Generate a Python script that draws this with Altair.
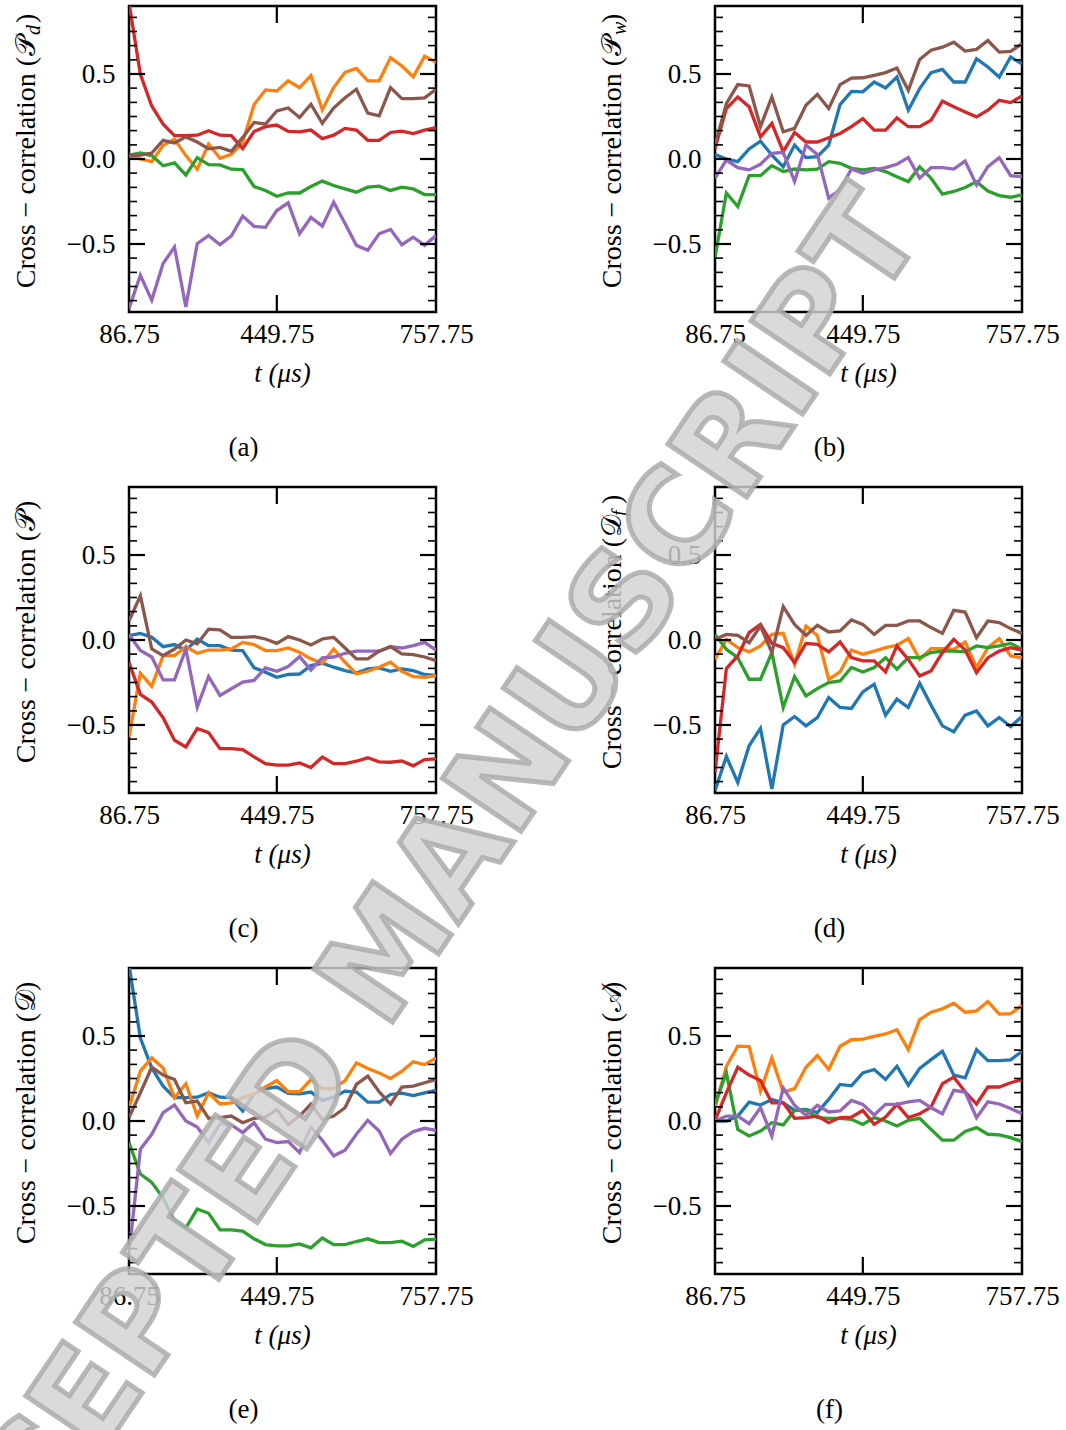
import altair as alt
import pandas as pd

# ---------------- data ----------------
a_orange = [0.02, 0.0, -0.015, 0.08, 0.117, 0.02, -0.06, 0.088, 0.004, 0.027, 0.098, 0.32, 0.406, 0.4, 0.46, 0.42, 0.49, 0.29, 0.42, 0.51, 0.533, 0.46, 0.46, 0.596, 0.547, 0.484, 0.605, 0.57]
a_green = [0.023, 0.035, 0.02, -0.04, -0.023, -0.094, 0.008, -0.033, -0.035, -0.06, -0.062, -0.162, -0.185, -0.219, -0.2, -0.2, -0.162, -0.13, -0.156, -0.176, -0.195, -0.166, -0.16, -0.185, -0.166, -0.176, -0.209, -0.21]
a_red = [0.92, 0.498, 0.312, 0.205, 0.137, 0.137, 0.14, 0.166, 0.14, 0.137, 0.062, 0.162, 0.19, 0.2, 0.162, 0.16, 0.17, 0.12, 0.14, 0.18, 0.17, 0.11, 0.11, 0.156, 0.164, 0.15, 0.17, 0.184]
a_purple = [-0.88, -0.684, -0.83, -0.615, -0.518, -0.87, -0.498, -0.45, -0.504, -0.453, -0.336, -0.396, -0.402, -0.303, -0.258, -0.44, -0.344, -0.395, -0.254, -0.38, -0.508, -0.537, -0.44, -0.414, -0.504, -0.46, -0.508, -0.45]
a_brown = [0.02, 0.023, 0.035, 0.11, 0.094, 0.13, 0.1, 0.06, 0.068, 0.045, 0.127, 0.215, 0.205, 0.283, 0.3, 0.244, 0.322, 0.21, 0.3, 0.36, 0.41, 0.27, 0.254, 0.42, 0.355, 0.355, 0.36, 0.41]

b_blue = [0.027, 0.0, -0.016, 0.059, 0.105, 0.023, -0.045, 0.082, 0.008, 0.014, 0.082, 0.32, 0.398, 0.395, 0.453, 0.418, 0.482, 0.287, 0.414, 0.508, 0.527, 0.453, 0.453, 0.59, 0.541, 0.482, 0.6, 0.56]
b_green = [-0.58, -0.2, -0.28, -0.098, -0.098, -0.039, -0.074, -0.059, -0.064, -0.06, -0.016, -0.025, -0.055, -0.064, -0.055, -0.074, -0.104, -0.133, -0.045, -0.113, -0.207, -0.191, -0.168, -0.133, -0.188, -0.215, -0.225, -0.211]
b_red = [0.062, 0.297, 0.365, 0.307, 0.13, 0.209, 0.043, 0.156, 0.1, 0.1, 0.125, 0.15, 0.19, 0.238, 0.17, 0.17, 0.242, 0.19, 0.19, 0.228, 0.34, 0.307, 0.277, 0.248, 0.287, 0.345, 0.332, 0.371]
b_purple = [-0.113, -0.006, -0.051, -0.064, -0.031, 0.033, 0.039, -0.133, 0.082, 0.027, -0.23, -0.18, -0.059, -0.084, -0.064, -0.051, -0.031, 0.008, -0.113, -0.051, -0.051, -0.059, -0.012, -0.152, -0.045, 0.008, -0.098, -0.104]
b_brown = [0.08, 0.326, 0.4375, 0.43, 0.19, 0.365, 0.16, 0.18, 0.316, 0.38, 0.297, 0.4375, 0.476, 0.478, 0.492, 0.508, 0.535, 0.404, 0.586, 0.64, 0.658, 0.6875, 0.635, 0.645, 0.697, 0.629, 0.633, 0.678]

c_blue = [0.025, 0.039, 0.016, -0.039, -0.027, -0.062, 0.006, -0.033, -0.033, -0.059, -0.062, -0.164, -0.189, -0.219, -0.203, -0.2, -0.15, -0.137, -0.16, -0.18, -0.195, -0.17, -0.164, -0.184, -0.17, -0.18, -0.203, -0.209]
c_orange = [-0.57, -0.195, -0.273, -0.092, -0.092, -0.039, -0.078, -0.059, -0.059, -0.053, -0.014, -0.027, -0.062, -0.062, -0.047, -0.072, -0.111, -0.137, -0.053, -0.131, -0.2, -0.184, -0.16, -0.131, -0.184, -0.215, -0.219, -0.209]
c_red = [-0.131, -0.32, -0.365, -0.457, -0.59, -0.629, -0.521, -0.545, -0.639, -0.639, -0.645, -0.688, -0.727, -0.736, -0.736, -0.723, -0.75, -0.688, -0.727, -0.727, -0.713, -0.693, -0.717, -0.719, -0.711, -0.74, -0.703, -0.699]
c_purple = [0.031, -0.062, -0.1, -0.234, -0.234, -0.053, -0.395, -0.215, -0.326, -0.287, -0.248, -0.238, -0.164, -0.184, -0.156, -0.098, -0.176, -0.105, -0.1, -0.078, -0.066, -0.066, -0.066, -0.039, -0.047, -0.033, -0.014, -0.059]
c_brown = [0.113, 0.26, -0.053, -0.092, -0.053, 0.0, -0.023, 0.064, 0.059, 0.016, 0.016, 0.02, 0.006, -0.02, 0.02, 0.0, -0.029, 0.006, 0.016, -0.047, -0.111, -0.111, -0.066, -0.039, -0.082, -0.086, -0.1, -0.121]

d_blue = [-0.886, -0.685, -0.838, -0.622, -0.52, -0.876, -0.5, -0.45, -0.505, -0.456, -0.338, -0.397, -0.403, -0.305, -0.26, -0.442, -0.348, -0.397, -0.254, -0.383, -0.505, -0.54, -0.442, -0.417, -0.505, -0.456, -0.509, -0.45]
d_orange = [-0.114, 0.004, -0.045, -0.07, -0.035, 0.033, 0.039, -0.143, 0.082, 0.027, -0.231, -0.188, -0.059, -0.084, -0.065, -0.045, -0.031, 0.008, -0.114, -0.051, -0.051, -0.055, -0.012, -0.162, -0.045, 0.008, -0.094, -0.104]
d_green = [0.033, -0.055, -0.104, -0.231, -0.231, -0.074, -0.397, -0.215, -0.329, -0.286, -0.25, -0.241, -0.162, -0.188, -0.162, -0.104, -0.172, -0.104, -0.104, -0.074, -0.065, -0.065, -0.07, -0.035, -0.045, -0.035, -0.02, -0.055]
d_red = [-0.78, -0.168, -0.094, 0.043, 0.092, -0.02, -0.045, -0.133, -0.02, -0.025, -0.07, -0.012, -0.104, -0.123, -0.123, -0.188, -0.035, -0.114, -0.211, -0.182, -0.074, 0.004, -0.059, -0.192, -0.104, -0.065, -0.045, -0.059]
d_brown = [0.004, 0.033, 0.027, -0.016, 0.082, -0.074, 0.196, 0.092, 0.027, 0.086, 0.047, 0.053, 0.118, 0.092, 0.033, 0.086, 0.086, 0.112, 0.112, 0.073, 0.039, 0.174, 0.164, 0.014, 0.112, 0.102, 0.067, 0.039]

e_blue = [0.92, 0.488, 0.312, 0.205, 0.137, 0.137, 0.14, 0.166, 0.14, 0.137, 0.059, 0.16, 0.19, 0.2, 0.162, 0.16, 0.17, 0.121, 0.14, 0.176, 0.17, 0.111, 0.111, 0.156, 0.164, 0.15, 0.166, 0.18]
e_orange = [0.078, 0.293, 0.371, 0.312, 0.137, 0.219, 0.029, 0.166, 0.1, 0.107, 0.137, 0.16, 0.2, 0.238, 0.172, 0.172, 0.244, 0.191, 0.191, 0.238, 0.342, 0.309, 0.283, 0.25, 0.293, 0.348, 0.332, 0.371]
e_green = [-0.127, -0.312, -0.361, -0.453, -0.586, -0.629, -0.518, -0.543, -0.64, -0.64, -0.648, -0.693, -0.727, -0.734, -0.734, -0.723, -0.746, -0.688, -0.727, -0.727, -0.709, -0.693, -0.715, -0.715, -0.707, -0.738, -0.699, -0.695]
e_purple = [-0.78, -0.166, -0.078, 0.049, 0.094, 0.0, -0.035, -0.127, -0.016, -0.023, -0.068, -0.01, -0.107, -0.127, -0.121, -0.186, -0.035, -0.113, -0.205, -0.172, -0.078, 0.004, -0.059, -0.191, -0.107, -0.062, -0.043, -0.055]
e_brown = [0.02, 0.166, 0.316, 0.27, 0.244, 0.107, 0.117, 0.016, 0.02, 0.029, -0.01, 0.016, 0.023, 0.068, -0.02, 0.029, 0.1, 0.01, 0.029, 0.078, 0.215, 0.264, 0.172, 0.1, 0.2, 0.205, 0.225, 0.244]

f_blue = [0.0, 0.0, 0.029, 0.111, 0.094, 0.127, 0.107, 0.062, 0.068, 0.049, 0.127, 0.215, 0.207, 0.283, 0.303, 0.244, 0.322, 0.211, 0.309, 0.361, 0.41, 0.27, 0.254, 0.42, 0.355, 0.355, 0.36, 0.41]
f_orange = [0.078, 0.322, 0.44, 0.4375, 0.176, 0.371, 0.17, 0.19, 0.316, 0.385, 0.303, 0.44, 0.478, 0.482, 0.498, 0.512, 0.537, 0.42, 0.596, 0.64, 0.66, 0.693, 0.64, 0.648, 0.703, 0.629, 0.631, 0.68]
f_green = [0.1, 0.283, -0.049, -0.088, -0.059, -0.01, -0.023, 0.062, 0.062, 0.02, 0.016, 0.016, 0.01, -0.02, 0.02, 0.0, -0.029, 0.004, 0.016, -0.049, -0.113, -0.113, -0.062, -0.039, -0.078, -0.082, -0.098, -0.121]
f_red = [0.004, 0.166, 0.316, 0.27, 0.238, 0.107, 0.107, 0.016, 0.02, 0.029, -0.01, 0.02, 0.023, 0.062, -0.02, 0.023, 0.098, 0.02, 0.043, 0.082, 0.219, 0.258, 0.172, 0.1, 0.2, 0.2, 0.225, 0.244]
f_purple = [0.0, 0.029, 0.029, -0.016, 0.078, -0.088, 0.195, 0.092, 0.033, 0.092, 0.053, 0.059, 0.121, 0.098, 0.035, 0.098, 0.098, 0.113, 0.121, 0.078, 0.043, 0.18, 0.17, 0.02, 0.113, 0.1, 0.074, 0.043]

X_TICK_IDX = [0, 13, 27]
X_TICK_LABELS = ["86.75", "449.75", "757.75"]
Y_MAJOR = [-0.5, 0.0, 0.5]
Y_MINOR = [-0.833, -0.75, -0.667, -0.583, -0.417, -0.333, -0.25, -0.167, -0.083,
           0.083, 0.167, 0.25, 0.333, 0.417, 0.583, 0.667, 0.75, 0.833]

SERIES = ["blue", "orange", "green", "red", "purple", "brown"]
COLORS = ["#1f77b4", "#ff7f0e", "#2ca02c", "#d62728", "#9467bd", "#8c564b"]

PANELS = [
    ("(a)", "\U0001D4AB", "d", {"orange": a_orange, "green": a_green, "red": a_red, "purple": a_purple, "brown": a_brown}),
    ("(b)", "\U0001D4AB", "w", {"blue": b_blue, "green": b_green, "red": b_red, "purple": b_purple, "brown": b_brown}),
    ("(c)", "\U0001D4AB", "", {"blue": c_blue, "orange": c_orange, "red": c_red, "purple": c_purple, "brown": c_brown}),
    ("(d)", "\U0001D49F", "f", {"blue": d_blue, "orange": d_orange, "green": d_green, "red": d_red, "brown": d_brown}),
    ("(e)", "\U0001D49F", "", {"blue": e_blue, "orange": e_orange, "green": e_green, "purple": e_purple, "brown": e_brown}),
    ("(f)", "\U0001D49C", "", {"blue": f_blue, "orange": f_orange, "green": f_green, "red": f_red, "purple": f_purple}),
]

TITLE_MAIN = "Cross \u2212 correlation ("
X_TITLE = "t (\u03bcs)"
WATERMARK = "ACCEPTED MANUSCRIPT"

# ---------------- styling ----------------
W, H = 307, 306
SERIF = "Liberation Serif"
FS = 27
MAJ, MIN = 16, 8

x_label_expr = " : ".join(
    f"datum.value == {i} ? '{l}'" for i, l in zip(X_TICK_IDX, X_TICK_LABELS)
) + " : ''"

x_enc = alt.X(
    "i:Q",
    scale=alt.Scale(domain=[0, 27], nice=False, zero=False),
    axis=alt.Axis(values=X_TICK_IDX, labelExpr=x_label_expr, ticks=False, domain=False,
                  grid=False, labelFont=SERIF, labelFontSize=FS, labelColor="black",
                  labelPadding=9, labelFlush=False, labelOverlap=False, labelBound=False),
    title=None,
)
y_enc = alt.Y(
    "v:Q",
    scale=alt.Scale(domain=[-0.9, 0.9], nice=False, zero=False),
    axis=alt.Axis(values=Y_MAJOR, labelExpr="replace(format(datum.value, '.1f'), '-', '\u2212')",
                  ticks=False, domain=False, grid=False, labelFont=SERIF, labelFontSize=FS,
                  labelColor="black", labelPadding=14, labelOverlap=False),
    title=None,
)


def text_layer(txt, x, y, size=FS, angle=0, align="center", baseline="middle", style="normal", font=SERIF):
    return alt.Chart(pd.DataFrame({"t": [txt]})).mark_text(
        angle=angle, align=align, baseline=baseline, font=font, fontSize=size,
        fontStyle=style, color="black"
    ).encode(text="t:N", x=alt.value(x), y=alt.value(y))


def make_panel(caption, sym, sub, series, watermark=False):
    rows = []
    for s in SERIES:
        if s in series:
            for i, v in enumerate(series[s]):
                rows.append({"i": i, "v": v, "s": s})
    df = pd.DataFrame(rows)

    lines = alt.Chart(df).mark_line(strokeWidth=3.3, clip=True).encode(
        x=x_enc, y=y_enc,
        color=alt.Color("s:N", scale=alt.Scale(domain=SERIES, range=COLORS), legend=None),
    )

    ymaj = pd.DataFrame({"v": Y_MAJOR})
    ymin = pd.DataFrame({"v": Y_MINOR})
    xmaj = pd.DataFrame({"i": X_TICK_IDX[1:2]})
    tick_layers = [
        alt.Chart(ymaj).mark_rule(color="black", strokeWidth=2.2).encode(y=y_enc, x=alt.value(0), x2=alt.value(MAJ)),
        alt.Chart(ymaj).mark_rule(color="black", strokeWidth=2.2).encode(y=y_enc, x=alt.value(W), x2=alt.value(W - MAJ)),
        alt.Chart(ymin).mark_rule(color="black", strokeWidth=1.6).encode(y=y_enc, x=alt.value(0), x2=alt.value(MIN)),
        alt.Chart(ymin).mark_rule(color="black", strokeWidth=1.6).encode(y=y_enc, x=alt.value(W), x2=alt.value(W - MIN)),
        alt.Chart(xmaj).mark_rule(color="black", strokeWidth=2.2).encode(x=x_enc, y=alt.value(0), y2=alt.value(MAJ + 1)),
        alt.Chart(xmaj).mark_rule(color="black", strokeWidth=2.2).encode(x=x_enc, y=alt.value(H), y2=alt.value(H - MAJ - 1)),
    ]

    # y title built from pieces (main text, script symbol, subscript, closing paren)
    len_a, len_sym, len_sub, len_close = 248, 22, (12 if sub else 0), 10
    total = len_a + len_sym + len_sub + len_close
    start = H / 2 + total / 2
    a_end = start - len_a
    bx = -94
    texts = [
        text_layer(TITLE_MAIN, bx, a_end, size=28, angle=270, align="right", baseline="alphabetic"),
        text_layer(sym, bx, a_end - 1, size=28, angle=270, align="left", baseline="alphabetic", font="DejaVu Sans"),
    ]
    if sub:
        texts.append(text_layer(sub, bx + 5, a_end - len_sym, size=20, angle=270, align="left",
                                baseline="alphabetic", style="italic"))
    texts.append(text_layer(")", bx, a_end - len_sym - len_sub, size=28, angle=270, align="left", baseline="alphabetic"))
    texts.append(text_layer(X_TITLE, W / 2, H + 62, style="italic"))
    texts.append(text_layer(caption, W / 2 - 39, H + 136))

    layers = [lines, *tick_layers, *texts]
    if watermark:
        wm = alt.Chart(pd.DataFrame({"t": [WATERMARK]})).mark_text(
            angle=304, align="center", baseline="middle", font="DejaVu Sans", fontWeight="bold",
            fontSize=130, fill="#d2d2d2", fillOpacity=0.82, stroke="#ababab", strokeWidth=5,
            strokeOpacity=0.85
        ).encode(text="t:N", x=alt.value(-317), y=alt.value(-24))
        layers.append(wm)

    return alt.layer(*layers).properties(width=W, height=H)


panels = [make_panel(*p, watermark=(k == len(PANELS) - 1)) for k, p in enumerate(PANELS)]
chart = alt.concat(
    *panels, columns=2, spacing={"row": 175, "column": 279}, bounds="flush"
).properties(
    padding={"left": -153, "top": 3, "right": 5, "bottom": 5},
    background="white",
).configure_view(stroke="black", strokeWidth=2.5)

chart.save("out.html", embed_options={"renderer": "svg", "actions": False})
